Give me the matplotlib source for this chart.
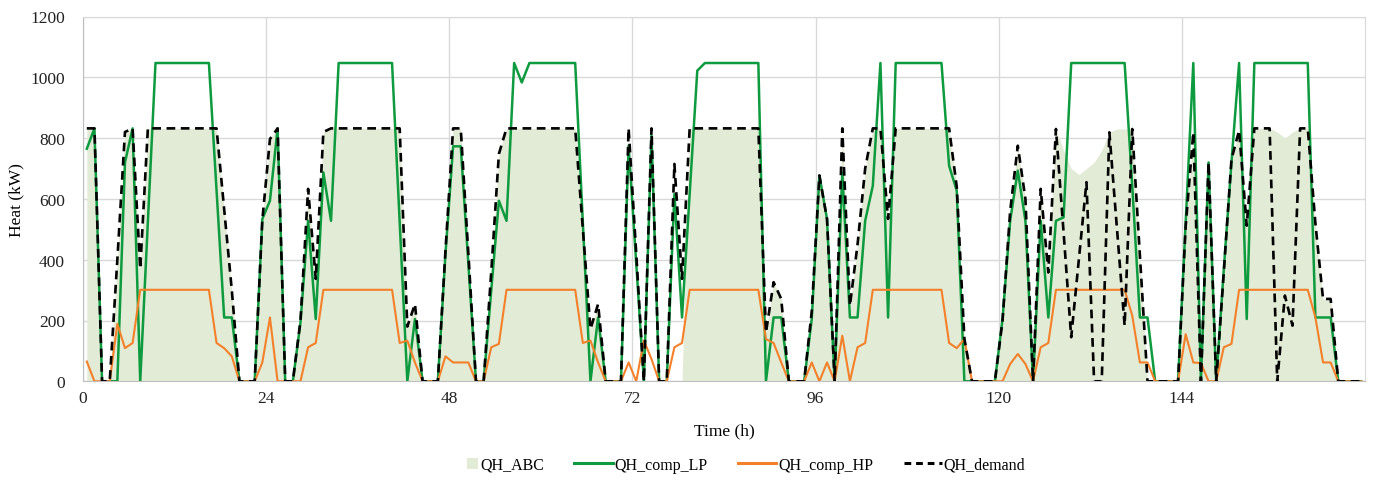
import numpy as np
import matplotlib
matplotlib.use("Agg")
import matplotlib.pyplot as plt
from matplotlib.patches import Patch, Rectangle
from matplotlib.lines import Line2D
from matplotlib.legend_handler import HandlerPatch

hours = np.arange(168)

qh_comp_lp = [
    765, 832, 0, 0, 0, 720, 832, 0, 520, 1047, 1047, 1047, 1047, 1047, 1047, 1047, 1047, 630, 210, 210,
    0, 0, 0, 534, 594, 832, 0, 0, 194, 528, 205, 687, 528, 1047, 1047, 1047, 1047, 1047, 1047, 1047,
    1047, 520, 0, 205, 0, 0, 0, 420, 773, 773, 386, 0, 0, 300, 594, 528, 1047, 983, 1047, 1047,
    1047, 1047, 1047, 1047, 1047, 523, 0, 210, 0, 0, 0, 775, 390, 0, 808, 0, 0, 616, 210, 616,
    1022, 1047, 1047, 1047, 1047, 1047, 1047, 1047, 1047, 0, 210, 210, 0, 0, 0, 205, 677, 534, 0, 687,
    210, 210, 528, 643, 1047, 210, 1047, 1047, 1047, 1047, 1047, 1047, 1047, 709, 627, 0, 0, 0, 0, 0,
    205, 528, 693, 528, 0, 528, 210, 528, 539, 1047, 1047, 1047, 1047, 1047, 1047, 1047, 1047, 643, 210, 210,
    0, 0, 0, 0, 523, 1047, 0, 720, 0, 370, 720, 1047, 205, 1047, 1047, 1047, 1047, 1047, 1047, 1047,
    1047, 210, 210, 210, 0, 0, 0, 0,
]

qh_comp_hp = [
    65, 0, 0, 0, 189, 109, 126, 301, 301, 301, 301, 301, 301, 301, 301, 301, 301, 126, 109, 82,
    0, 0, 0, 62, 210, 0, 0, 0, 0, 112, 126, 301, 301, 301, 301, 301, 301, 301, 301, 301,
    301, 126, 134, 62, 0, 0, 0, 82, 62, 62, 62, 0, 0, 112, 123, 301, 301, 301, 301, 301,
    301, 301, 301, 301, 301, 126, 134, 62, 0, 0, 0, 62, 0, 134, 73, 0, 0, 112, 126, 301,
    301, 301, 301, 301, 301, 301, 301, 301, 301, 139, 126, 62, 0, 0, 0, 62, 0, 62, 0, 150,
    0, 112, 126, 301, 301, 301, 301, 301, 301, 301, 301, 301, 301, 126, 109, 139, 0, 0, 0, 0,
    0, 57, 90, 57, 0, 112, 126, 301, 301, 301, 301, 301, 301, 301, 301, 301, 301, 216, 62, 62,
    0, 0, 0, 0, 155, 62, 60, 0, 0, 112, 123, 301, 301, 301, 301, 301, 301, 301, 301, 301,
    301, 210, 62, 62, 0, 0, 0, 0,
]

qh_demand = [
    832, 832, 0, 0, 400, 820, 832, 370, 832, 832, 832, 832, 832, 832, 832, 832, 832, 832, 567, 300,
    0, 0, 0, 530, 797, 832, 0, 0, 200, 633, 337, 820, 832, 832, 832, 832, 832, 832, 832, 832,
    832, 832, 180, 254, 0, 0, 0, 430, 832, 832, 420, 0, 0, 360, 748, 832, 832, 832, 832, 832,
    832, 832, 832, 832, 832, 500, 172, 254, 0, 0, 0, 832, 420, 0, 832, 0, 0, 715, 337, 832,
    832, 832, 832, 832, 832, 832, 832, 832, 832, 161, 326, 271, 0, 0, 0, 230, 677, 534, 0, 832,
    249, 450, 700, 832, 832, 534, 832, 832, 832, 832, 832, 832, 832, 832, 640, 140, 0, 0, 0, 0,
    200, 560, 775, 600, 0, 633, 358, 830, 490, 145, 400, 655, 0, 0, 819, 500, 183, 830, 413, 0,
    0, 0, 0, 0, 510, 819, 0, 720, 0, 360, 730, 825, 512, 832, 832, 832, 0, 282, 183, 832,
    832, 520, 271, 271, 0, 0, 0, 0,
]

qh_abc = [
    832, 832, 0, 0, 400, 820, 832, 370, 832, 832, 832, 832, 832, 832, 832, 832, 832, 832, 567, 300,
    0, 0, 0, 530, 797, 832, 0, 0, 200, 633, 337, 820, 832, 832, 832, 832, 832, 832, 832, 832,
    832, 832, 180, 254, 0, 0, 0, 430, 832, 832, 420, 0, 0, 360, 748, 832, 832, 832, 832, 832,
    832, 832, 832, 832, 832, 500, 172, 254, 0, 0, 0, 0, 0, 0, 0, 0, 0, 0, 0, 832,
    832, 832, 832, 832, 832, 832, 832, 832, 832, 161, 326, 271, 0, 0, 0, 230, 677, 534, 0, 832,
    249, 450, 700, 832, 832, 534, 832, 832, 832, 832, 832, 832, 832, 832, 640, 140, 0, 0, 0, 0,
    200, 560, 775, 600, 0, 633, 358, 830, 760, 700, 680, 700, 720, 760, 819, 830, 830, 830, 413, 0,
    0, 0, 0, 0, 510, 819, 0, 720, 0, 360, 730, 825, 512, 832, 832, 832, 820, 800, 820, 832,
    832, 520, 271, 271, 0, 0, 0, 0,
]

y_ticks = [0, 200, 400, 600, 800, 1000, 1200]
x_ticks = [0, 24, 48, 72, 96, 120, 144]
series_labels = ["QH_ABC", "QH_comp_LP", "QH_comp_HP", "QH_demand"]

x = hours + 0.5

FILL = "#E2EBD5"
GREEN = "#0E9A3E"
ORANGE = "#F4802A"

plt.rcParams["font.family"] = ["Liberation Serif", "DejaVu Serif"]

W, H = 1377, 485
fig = plt.figure(figsize=(W / 100, H / 100), dpi=100)
ax = fig.add_axes([83 / W, 1 - 382.3 / H, (1365 - 83) / W, (382.3 - 17.5) / H])

ax.fill_between(x, 0, qh_abc, color=FILL, linewidth=0, zorder=1)
ax.plot(x, qh_comp_lp, color=GREEN, linewidth=1.8, zorder=3)
ax.plot(x, qh_comp_hp, color=ORANGE, linewidth=1.5, zorder=3)
ax.plot(x, qh_demand, color="black", linewidth=1.9, linestyle=(0, (3.3, 2.1)), zorder=4)

ax.set_xlim(0, 168)
ax.set_ylim(0, 1200)
ax.set_xticks(x_ticks)
ax.set_yticks(y_ticks)
ax.tick_params(length=0, labelsize=12.5, colors="#222222")
ax.tick_params(axis="y", pad=13)
ax.tick_params(axis="x", pad=6)
ax.grid(True, color="#D9D9D9", linewidth=1.0, zorder=0)
ax.set_axisbelow(True)
for s in ["top", "right"]:
    ax.spines[s].set_color("#D9D9D9")
for s in ["left", "bottom"]:
    ax.spines[s].set_color("#BFBFBF")

ax.set_xlabel("Time (h)", fontsize=12.5, labelpad=12)
ax.set_ylabel("Heat (kW)", fontsize=12.5, labelpad=4)


def square_patch(legend, orig_handle, xdescent, ydescent, width, height, fontsize):
    s = height * 1.0
    return Rectangle((-xdescent + width - s, -ydescent + (height - s) / 2), s, s)


handles = [
    Patch(facecolor=FILL, edgecolor="none"),
    Line2D([], [], color=GREEN, linewidth=2.2),
    Line2D([], [], color=ORANGE, linewidth=2.2),
    Line2D([], [], color="black", linewidth=2.2, linestyle=(0, (2.2, 1.6))),
]
fig.legend(handles, series_labels, loc="center", bbox_to_anchor=(0.532, 1 - 466 / H), ncol=4,
           frameon=False, fontsize=11.5, handlelength=2.4, handletextpad=0.12, columnspacing=1.9,
           handler_map={Patch: HandlerPatch(patch_func=square_patch)})

fig.savefig("out.png", dpi=100)
